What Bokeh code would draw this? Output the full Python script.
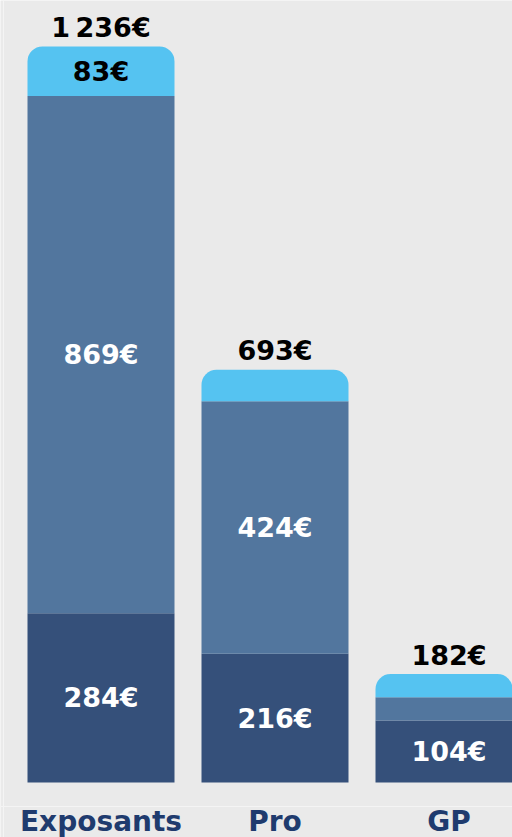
import numpy as np
from bokeh.plotting import figure
from bokeh.models import ColumnDataSource, Range1d, Span
from bokeh.core.properties import value
from bokeh.embed import file_html
from bokeh.resources import INLINE

categories = ["Exposants", "Pro", "GP"]
base_vals = [284, 216, 104]
middle_vals = [869, 424, 39]
top_vals = [83, 53, 39]
total_labels = ["1\u202f236€", "693€", "182€"]

DARK = "#35507a"
MID = "#52769e"
LIGHT = "#55c3f1"
BG = "#eaeaea"
FONT = value("DejaVu Sans")

x = np.arange(len(categories), dtype=float)
b = np.array(base_vals, dtype=float)
m = np.array(middle_vals, dtype=float)
t = np.array(top_vals, dtype=float)
totals = b + m + t

src = ColumnDataSource(dict(x=x, b0=np.zeros_like(b), b1=b, m1=b + m, t1=totals))

p = figure(width=512, height=837, x_range=Range1d(-0.5776, 2.3649),
           y_range=Range1d(-92.4, 1313.2), output_backend="svg",
           toolbar_location=None, min_border_left=0, min_border_right=0,
           min_border_top=0, min_border_bottom=0)
p.background_fill_color = BG
p.border_fill_color = BG
p.outline_line_color = None
p.axis.visible = False
p.grid.visible = False

p.add_layout(Span(location=-40.3, dimension="width", line_color="#f4f4f4", line_width=1))
p.add_layout(Span(location=-0.5603, dimension="height", line_color="#f4f4f4", line_width=1))

W = 147 / 174
p.vbar(x="x", bottom="b0", top="b1", width=W, source=src, fill_color=DARK, line_color=None)
p.vbar(x="x", bottom="b1", top="m1", width=W, source=src, fill_color=MID, line_color=None)
p.vbar(x="x", bottom="m1", top="t1", width=W, source=src, fill_color=LIGHT, line_color=None,
       border_radius=(15, 15, 0, 0))

# segment labels (shown if the segment is tall enough)
wx, wy, wt = [], [], []
kx, ky, kt = [], [], []
for i in range(len(categories)):
    if b[i] >= 60:
        wx.append(x[i]); wy.append(b[i] / 2); wt.append(f"{int(b[i])}€")
    if m[i] >= 60:
        wx.append(x[i]); wy.append(b[i] + m[i] / 2); wt.append(f"{int(m[i])}€")
    if t[i] >= 60:
        kx.append(x[i]); ky.append(b[i] + m[i] + t[i] / 2); kt.append(f"{int(t[i])}€")

LBL = "27px"
p.text(x=wx, y=wy, text=wt, text_color="white", text_font=FONT, text_font_style="bold",
       text_font_size=LBL, text_align="center", text_baseline="middle")
p.text(x=kx, y=ky, text=kt, text_color="black", text_font=FONT, text_font_style="bold",
       text_font_size=LBL, text_align="center", text_baseline="middle")
p.text(x=x, y=totals, text=total_labels, text_color="black", text_font=FONT,
       text_font_style="bold", text_font_size=LBL, text_align="center",
       text_baseline="middle", y_offset=-19)
p.text(x=x, y=np.zeros_like(x), text=categories, text_color="#1f3b6e", text_font=FONT,
       text_font_style="bold", text_font_size="28px", text_align="center",
       text_baseline="alphabetic", y_offset=39)

open("out.html", "w").write(file_html(p, INLINE))
